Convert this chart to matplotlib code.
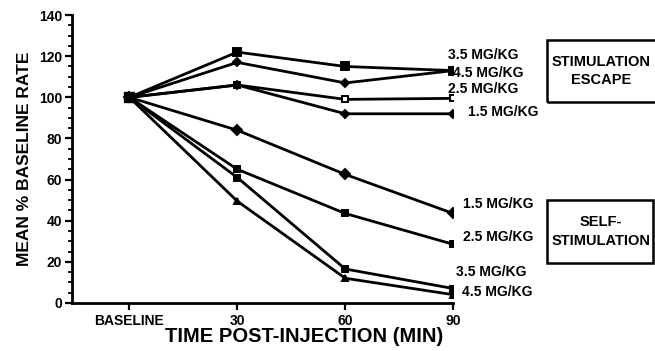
import numpy as np
import matplotlib
matplotlib.use("Agg")
import matplotlib.pyplot as plt
from matplotlib.patches import Rectangle

plt.rcParams['font.family'] = ['Liberation Sans', 'DejaVu Sans']
plt.rcParams['font.weight'] = 'bold'

# data
times = ['BASELINE', '30', '60', '90']
escape_doses = ['3.5 MG/KG', '4.5 MG/KG', '2.5 MG/KG', '1.5 MG/KG']
escape_vals = [
    [100, 122, 115, 113],
    [100, 117, 107, 113],
    [100, 106, 99, 99.5],
    [100, 106, 92, 92],
]
self_doses = ['1.5 MG/KG', '2.5 MG/KG', '3.5 MG/KG', '4.5 MG/KG']
self_vals = [
    [100, 84, 62.5, 43.5],
    [100, 65, 43.5, 28.5],
    [100, 61, 16.5, 7],
    [100, 49.5, 12, 4],
]

escape_markers = [('s', 'k', 6), ('D', 'k', 4.5), ('s', 'w', 5), ('D', 'k', 4.5)]
self_markers = [('D', 'k', 5), ('s', 'k', 5), ('s', 'k', 5), ('^', 'k', 5)]
# y positions of the right-hand labels
escape_label_y = [120.5, 112, 104, 93]
self_label_y = [48, 32, 15, 5.5]
escape_label_dx = [-0.05, 0.0, -0.05, 0.14]
self_label_dx = [0.09, 0.09, 0.03, 0.08]

fig = plt.figure(figsize=(6.55, 3.51), dpi=100)
ax = fig.add_axes([0.110, 0.137, 0.582, 0.820])

x = np.arange(len(times))
for vals, (m, fc, ms) in zip(escape_vals + self_vals, escape_markers + self_markers):
    ax.plot(x, vals, color='k', lw=2.0, marker=m, markersize=ms,
            markerfacecolor=fc, markeredgecolor='k', markeredgewidth=1.4, zorder=3)
ax.plot([0], [100], 's', color='k', markersize=7, zorder=4)

for lab, yy, dx in zip(escape_doses, escape_label_y, escape_label_dx):
    ax.text(3.0 + dx, yy, lab, fontsize=10, fontweight='bold', va='center',
            ha='left', clip_on=False)
for lab, yy, dx in zip(self_doses, self_label_y, self_label_dx):
    ax.text(3.0 + dx, yy, lab, fontsize=10, fontweight='bold', va='center',
            ha='left', clip_on=False)

ax.set_xlim(-0.53, 3.0)
ax.set_ylim(0, 140)
ax.set_xticks(x)
ax.set_xticklabels(times, fontsize=10, fontweight='bold')
ax.set_yticks(np.arange(0, 141, 20))
ax.set_yticks(np.arange(0, 141, 5), minor=True)
ax.tick_params(axis='y', labelsize=10, width=1.6, length=5, direction='out', pad=2)
ax.tick_params(axis='y', which='minor', width=1.3, length=3)
ax.tick_params(axis='x', width=1.6, length=5, direction='out', pad=3)
for lab in ax.get_yticklabels():
    lab.set_fontweight('bold')
ax.spines['top'].set_visible(False)
ax.spines['right'].set_visible(False)
ax.spines['left'].set_linewidth(2.0)
ax.spines['bottom'].set_linewidth(2.0)

ax.set_ylabel('MEAN % BASELINE RATE', fontsize=12.5, fontweight='bold', labelpad=5)
ax.set_xlabel('TIME POST-INJECTION (MIN)', fontsize=14.5, fontweight='bold')
ax.xaxis.set_label_coords(0.61, -0.085)

# group boxes
W, H = 655, 351
for (x0, y0, x1, y1), lines in [((547, 40, 660, 102), 'STIMULATION\nESCAPE'),
                                ((547, 200, 653, 263), 'SELF-\nSTIMULATION')]:
    fig.patches.append(Rectangle((x0 / W, 1 - y1 / H), (x1 - x0) / W, (y1 - y0) / H,
                                 transform=fig.transFigure, fill=False,
                                 lw=1.8, ec='k'))
    fig.text((x0 + 54) / W, 1 - (y0 + y1) / 2 / H, lines, ha='center', va='center',
             fontsize=10.5, fontweight='bold', linespacing=1.4)

fig.savefig('out.png', dpi=100)
